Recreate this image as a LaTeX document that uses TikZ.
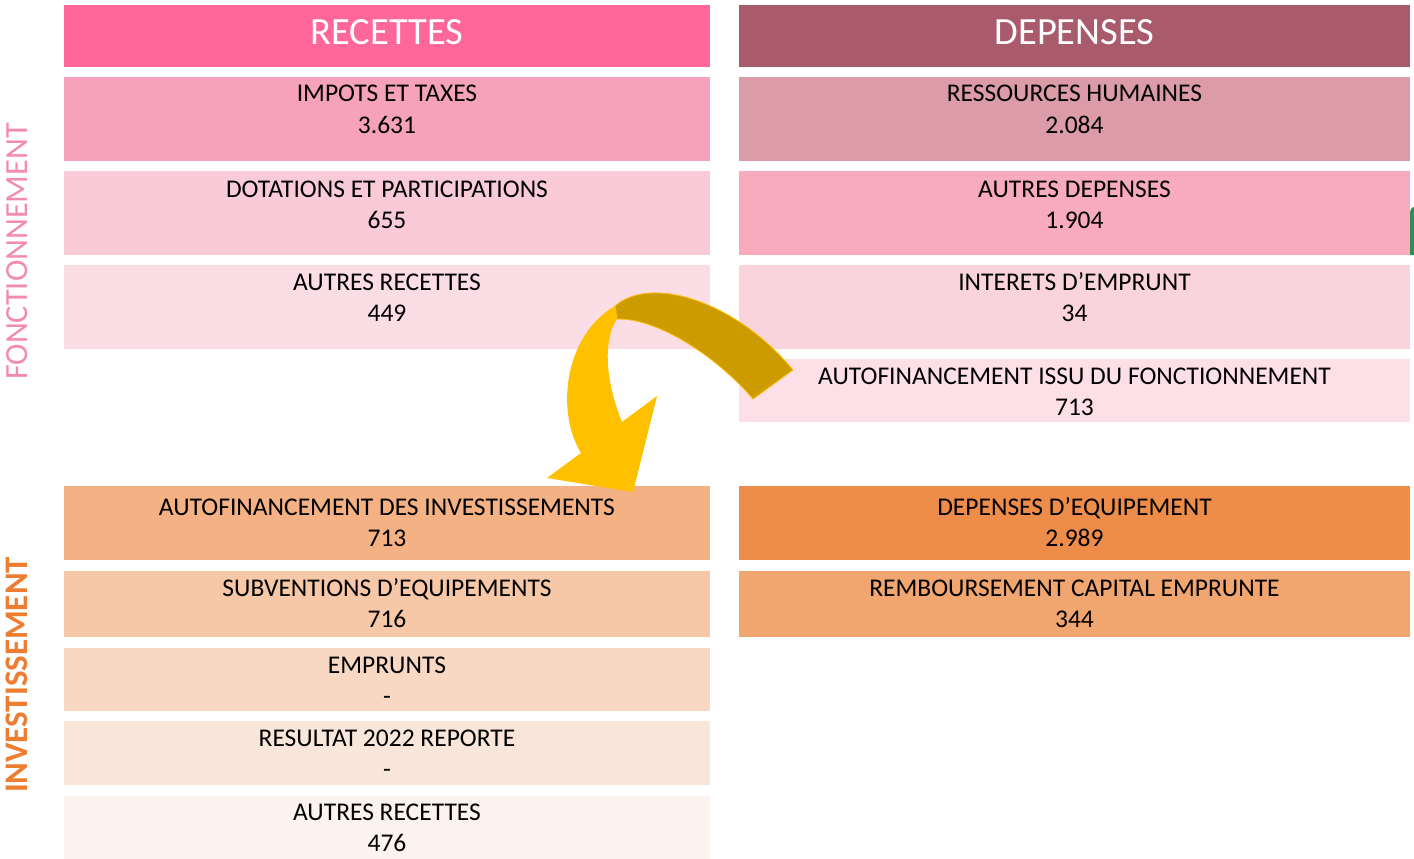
\documentclass[tikz,border=0pt]{standalone}
\usepackage{fontspec}
\setmainfont{Carlito}
\definecolor{hdrL}{HTML}{FF6699}
\definecolor{hdrR}{HTML}{A95B6C}
\definecolor{l1}{HTML}{F6A2BB}
\definecolor{l2}{HTML}{F9CBD9}
\definecolor{l3}{HTML}{FBDDE6}
\definecolor{r1}{HTML}{DB9CA8}
\definecolor{r2}{HTML}{F8ABBC}
\definecolor{r3}{HTML}{FAD4DC}
\definecolor{r4}{HTML}{FDE0E7}
\definecolor{i1}{HTML}{F4B183}
\definecolor{i2}{HTML}{F7C8A8}
\definecolor{i3}{HTML}{F8D8C3}
\definecolor{i4}{HTML}{F9E6DA}
\definecolor{i5}{HTML}{FCF3EE}
\definecolor{j1}{HTML}{EE8C4A}
\definecolor{j2}{HTML}{F2A66F}
\definecolor{fonc}{HTML}{F28CAB}
\definecolor{inv}{HTML}{ED7D31}
\definecolor{gold}{HTML}{CC9B00}
\definecolor{amber}{HTML}{FFC000}
\definecolor{grn}{HTML}{358A5A}
\tikzset{
  boxtext/.style={anchor=base, inner sep=0pt, font=\fontsize{25.5}{31}\selectfont, text=black},
  hdrtext/.style={anchor=base, inner sep=0pt, font=\fontsize{38.5}{40}\selectfont, text=white},
}
\begin{document}
\begin{tikzpicture}[x=1pt,y=-1pt]
\useasboundingbox (0,0) rectangle (1414,859);
% headers
\fill[hdrL] (64,5) rectangle (710,67);
\fill[hdrR] (739,5) rectangle (1410,67);
\node[hdrtext] (hL) at (387,45) {RECETTES};
\node[hdrtext] (hR) at (1074.5,45) {DEPENSES};
% left fonctionnement
\fill[l1] (64,77) rectangle (710,161);
\fill[l2] (64,171) rectangle (710,255);
\fill[l3] (64,265) rectangle (710,349);
% right fonctionnement
\fill[r1] (739,77) rectangle (1410,161);
\fill[r2] (739,171) rectangle (1410,255);
\fill[r3] (739,265) rectangle (1410,349);
\fill[r4] (739,359) rectangle (1410,422);
% green sliver at the right edge
\fill[grn] (1410,214) to[out=90,in=180] (1414,207) -- (1414,255) -- (1410,255) -- cycle;
% investissement
\fill[i1] (64,486) rectangle (710,560);
\fill[i2] (64,571) rectangle (710,637);
\fill[i3] (64,648) rectangle (710,711);
\fill[i4] (64,721) rectangle (710,785);
\fill[i5] (64,796) rectangle (710,859);
\fill[j1] (739,486) rectangle (1410,560);
\fill[j2] (739,571) rectangle (1410,637);
% texts
\node[boxtext] (t1) at (387,102) {IMPOTS ET TAXES};
\node[boxtext] (t1n) at (387,133) {3.631};
\node[boxtext] (t2) at (387,197) {DOTATIONS ET PARTICIPATIONS};
\node[boxtext] (t2n) at (387,228) {655};
\node[boxtext] (t3) at (387,290) {AUTRES RECETTES};
\node[boxtext] (t3n) at (387,321) {449};
\node[boxtext] (u1) at (1074.5,102) {RESSOURCES HUMAINES};
\node[boxtext] (u1n) at (1074.5,133) {2.084};
\node[boxtext] (u2) at (1074.5,197) {AUTRES DEPENSES};
\node[boxtext] (u2n) at (1074.5,228) {1.904};
\node[boxtext] (u3) at (1074.5,290) {INTERETS D’EMPRUNT};
\node[boxtext] (u3n) at (1074.5,321) {34};
\node[boxtext] (u4) at (1074.5,384) {AUTOFINANCEMENT ISSU DU FONCTIONNEMENT};
\node[boxtext] (u4n) at (1074.5,415) {713};
\node[boxtext] (v1) at (387,515) {AUTOFINANCEMENT DES INVESTISSEMENTS};
\node[boxtext] (v1n) at (387,546) {713};
\node[boxtext] (v2) at (387,596) {SUBVENTIONS D’EQUIPEMENTS};
\node[boxtext] (v2n) at (387,627) {716};
\node[boxtext] (v3) at (387,673) {EMPRUNTS};
\node[boxtext] (v3n) at (387,704) {-};
\node[boxtext] (v4) at (387,746) {RESULTAT 2022 REPORTE};
\node[boxtext] (v4n) at (387,777) {-};
\node[boxtext] (v5) at (387,820) {AUTRES RECETTES};
\node[boxtext] (v5n) at (387,851) {476};
\node[boxtext] (w1) at (1074.5,515) {DEPENSES D’EQUIPEMENT};
\node[boxtext] (w1n) at (1074.5,546) {2.989};
\node[boxtext] (w2) at (1074.5,596) {REMBOURSEMENT CAPITAL EMPRUNTE};
\node[boxtext] (w2n) at (1074.5,627) {344};
% side labels
\node[rotate=90, inner sep=0pt, text=fonc, font=\fontsize{32.3}{34}\selectfont] (sf) at (17,251.5) {FONCTIONNEMENT};
\node[rotate=90, inner sep=0pt, text=inv, font=\fontsize{32.9}{34}\selectfont\bfseries] (si) at (17,675) {INVESTISSEMENT};
% curved arrow
\fill[gold, draw=amber, line width=0.8pt] (615,306) .. controls (650,275) and (735,300) .. (793,370)
  -- (753,399) .. controls (720,360) and (660,318) .. (617,319) -- cycle;
\fill[amber] (615,306) .. controls (565,335) and (555,410) .. (581,453)
  -- (547,478) -- (633,492) -- (657,396) -- (622,422)
  .. controls (605,380) and (603,340) .. (617,319) -- cycle;
\end{tikzpicture}
\end{document}
